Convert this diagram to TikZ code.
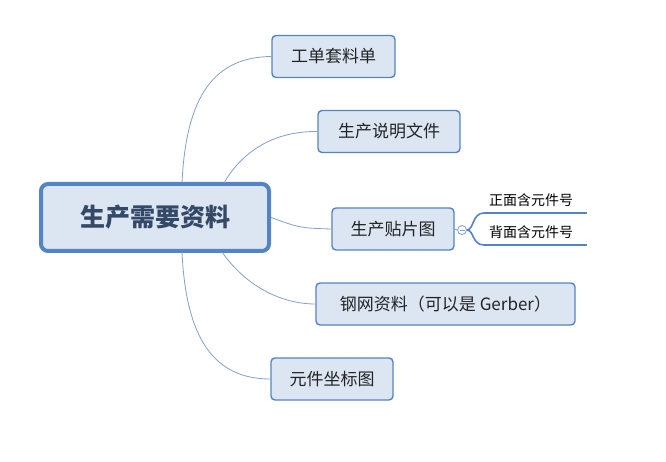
\documentclass[tikz,border=0pt]{standalone}
\usepackage{fontspec}
\newfontfamily\cjk{Noto Sans CJK SC}
\definecolor{boxblue}{RGB}{84,132,196}
\definecolor{boxfill}{RGB}{220,230,242}
\definecolor{linkblue}{RGB}{130,160,205}
\definecolor{maintext}{RGB}{52,72,104}
\definecolor{boxtext}{RGB}{35,35,35}

\begin{document}
\begin{tikzpicture}[x=1pt, y=-1pt]
	\tikzstyle{topic} = [draw=boxblue, fill=boxfill, rounded corners=4pt, line width=1.4pt,
		minimum height=42pt, inner sep=0, text=boxtext, font=\cjk\fontsize{17}{20}\selectfont]
	\tikzstyle{link} = [draw=linkblue, line width=0.8pt]
	\tikzstyle{leaf} = [draw=boxblue, line width=2.8pt]
	\tikzstyle{blank} = [inner sep=0, minimum size=0]

	\useasboundingbox (0,0) rectangle (666,462);

	% central topic
	\node[topic, line width=4pt, rounded corners=7pt, minimum width=228pt, minimum height=67pt,
		text=maintext, font=\cjk\bfseries\fontsize{25}{28}\selectfont] (0) at (155,217.5) {生产需要资料};

	% sub topics
	\node[topic, minimum width=123pt] (1) at (333.5,56.5) {工单套料单};
	\node[topic, minimum width=142pt] (2) at (389,131.5) {生产说明文件};
	\node[topic, minimum width=122pt] (3) at (393,229) {生产贴片图};
	\node[topic, minimum width=259pt] (4) at (445.5,304) {钢网资料（可以是 Gerber）};
	\node[topic, minimum width=122pt] (5) at (332,379) {元件坐标图};

	\draw[link] (182,183) .. controls (186,95) and (215,57) .. (1.west);
	\draw[link] (224,183) .. controls (240,155) and (270,131) .. (2.west);
	\draw[link] (0.east) .. controls (300,228) .. (3.west);
	\draw[link] (222,252) .. controls (245,285) and (280,304) .. (4.west);
	\draw[link] (182,252) .. controls (186,340) and (215,379) .. (5.west);

	% details of 3
	\node[draw=linkblue, line width=0.8pt, circle, fill=white, minimum size=9pt, inner sep=0] (3a) at (462,230) {};
	\draw[draw=linkblue, line width=0.8pt] ([xshift=-2.5pt]3a.center) -- ([xshift=2.5pt]3a.center);
	\draw[link] (3.east) -- (3a.west);
	\coordinate (3b) at (484,213);
	\coordinate (3c) at (587,213);
	\coordinate (3d) at (484,245);
	\coordinate (3e) at (587,245);
	\draw[draw=boxblue, line width=1.6pt] (3a.east) .. controls (474,230) and (472,213) .. (3b);
	\draw[draw=boxblue, line width=1.6pt] (3a.east) .. controls (474,230) and (472,245) .. (3d);
	\draw[leaf] (3b) -- (3c);
	\draw[leaf] (3d) -- (3e);
	\node[blank, text=black, font=\cjk\fontsize{14}{16}\selectfont] (3f) at (531,200) {正面含元件号};
	\node[blank, text=black, font=\cjk\fontsize{14}{16}\selectfont] (3g) at (531,232) {背面含元件号};

\end{tikzpicture}
\end{document}
